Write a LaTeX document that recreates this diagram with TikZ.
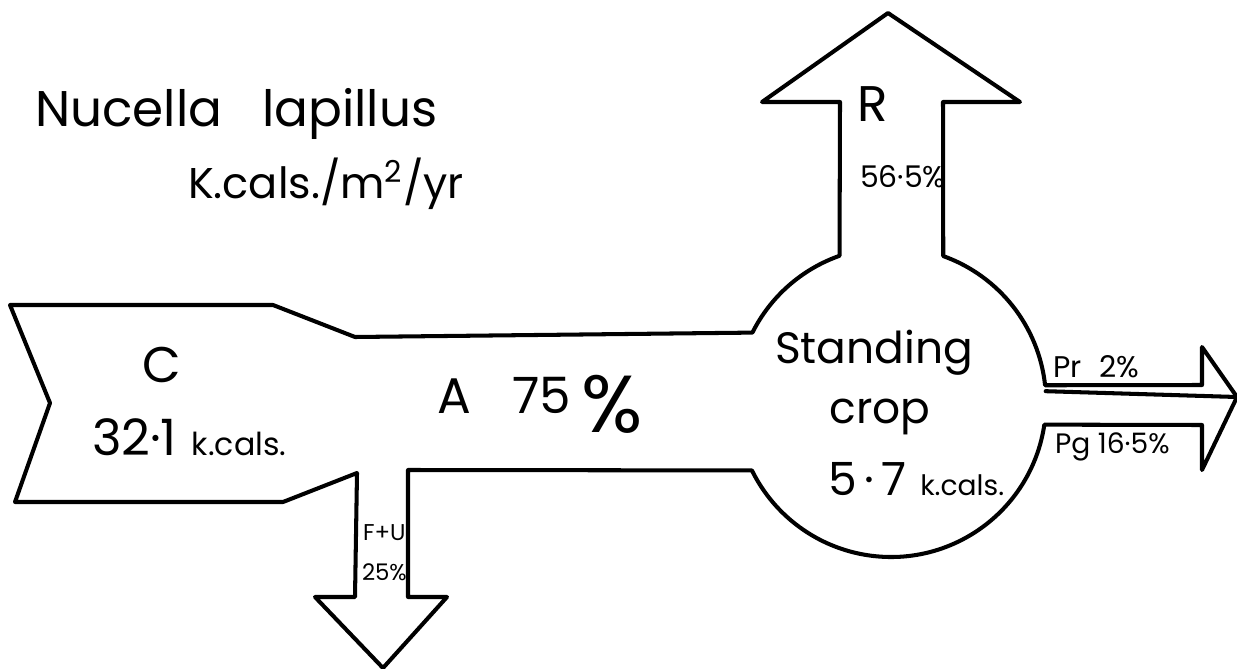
\documentclass[tikz,border=0pt]{standalone}
\usepackage{fontspec}
\setmainfont{Poppins}
\usetikzlibrary{calc}
\newcommand\fsz[1]{\fontsize{#1}{#1}\selectfont}
\begin{document}
\begin{tikzpicture}[x=0.02cm,y=-0.02cm,
  outline/.style={line width=2.3pt,line join=round,line cap=round},
  lbl/.style={inner sep=0pt,outer sep=0pt}]
\useasboundingbox (0,0) rectangle (1237,669);
\coordinate (O) at (891,402);
\coordinate (tip) at (1237,397);
% outline of the energy-flow diagram
\draw[outline] (10,305) -- (273,305) -- (355,337)
  -- ($(O)+(206.6:155)$) arc[start angle=206.6,end angle=250.6,radius=155]
  -- (840,102) -- (762,102) -- (888,13) -- (1020,102) -- (943,102)
  -- ($(O)+(289.7:155)$) arc[start angle=289.7,end angle=353.8,radius=155]
  -- (1202,385) -- (1202,347) -- (tip) -- (1202,470) -- (1202,425)
  -- ($(O)+(8.4:155)$) arc[start angle=8.4,end angle=153.8,radius=155]
  -- (408,470) -- (408,597) -- (447,597) -- (383,668) -- (315,597)
  -- (355,597) -- (357,473) -- (283,502) -- (15,502) -- (50,403) -- cycle;
\coordinate (mid) at ($(O)+(356:155)$);
\draw[outline] (mid) -- (tip);
% labels
\node[lbl,anchor=base west,font=\fsz{28.5}] (title) at (35,127) {Nucella\hspace{0.8em}lapillus};
\node[lbl,anchor=base west,font=\fsz{24.5}] (units) at (188,198) {K.cals./m\textsuperscript{2}/yr};
\node[lbl,anchor=base,font=\fsz{28.5}] (C) at (162,382) {C};
\node[lbl,anchor=base west,font=\fsz{28.5}] (Cval) at (92,455) {32·1\hspace{0.3em}{\fsz{18}k.cals.}};
\node[lbl,anchor=base,font=\fsz{28.5}] (A) at (454,413) {A};
\node[lbl,anchor=base west,font=\fsz{28.5}] (Aval) at (512,413) {75};
\node[lbl,anchor=base,font=\fsz{46}] (Apct) at (612,432) {\%};
\node[lbl,anchor=base,font=\fsz{28.5}] (R) at (873,122) {R};
\node[lbl,anchor=base west,font=\fsz{17}] (Rval) at (860,187) {56·5\%};
\node[lbl,anchor=base west,font=\fsz{25}] (stand) at (775,363) {Standing};
\node[lbl,anchor=base,font=\fsz{25}] (crop) at (880,423) {crop};
\node[lbl,anchor=base west,font=\fsz{26}] (sc) at (828,495) {5\,·\,7\hspace{0.3em}{\fsz{16}k.cals.}};
\node[lbl,anchor=base west,font=\fsz{13}] (FU) at (363,540) {F+U};
\node[lbl,anchor=base west,font=\fsz{13}] (FUp) at (362,580) {25\%};
\node[lbl,anchor=base west,font=\fsz{17}] (Pr) at (1053,377) {Pr\hspace{0.6em}2\%};
\node[lbl,anchor=base west,font=\fsz{16}] (Pg) at (1055,453) {Pg 16·5\%};
\end{tikzpicture}
\end{document}
